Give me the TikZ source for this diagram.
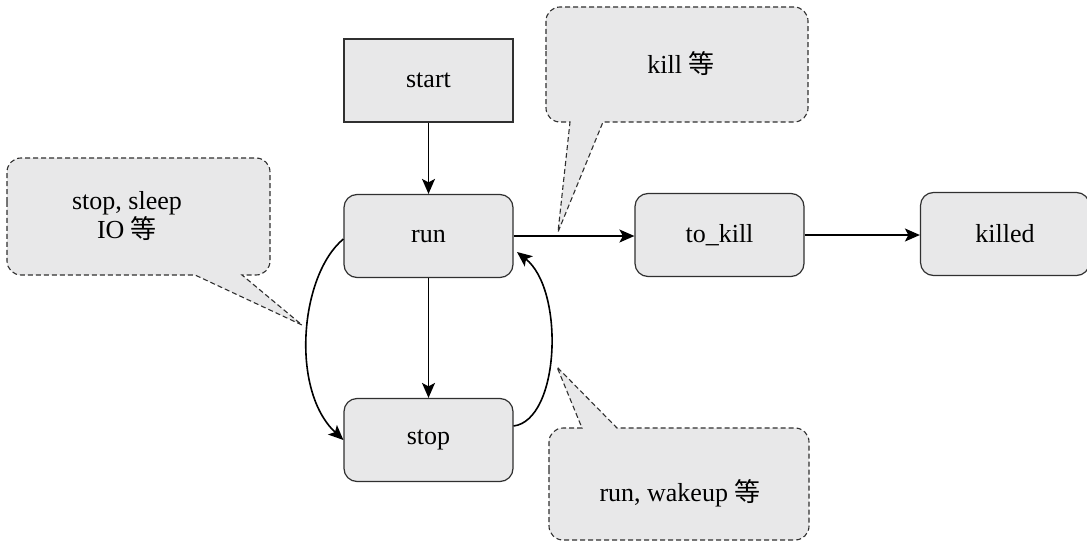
\documentclass[tikz,border=0pt]{standalone}
\usepackage{fontspec}
\setmainfont{Liberation Serif}
\newfontfamily\cjk{Noto Sans CJK SC}
\usetikzlibrary{arrows.meta}
\definecolor{boxfill}{HTML}{E8E8E9}
\definecolor{boxline}{HTML}{303030}
\tikzset{
  state/.style={draw=boxline, fill=boxfill, line width=1.2pt, rounded corners=13pt,
    minimum width=169pt, minimum height=83pt, inner sep=0pt,
    font=\fontsize{26}{29}\selectfont},
  startbox/.style={state, rounded corners=0pt},
  conn/.style={line width=1.6pt, -{Stealth[length=15pt,width=13pt,inset=3.5pt]}},
  callout/.style={draw=boxline, fill=boxfill, line width=1.1pt, dash pattern=on 5pt off 3pt},
  ctext/.style={font=\fontsize{26}{29}\selectfont, align=center, inner sep=0pt}
}
\begin{document}
\begin{tikzpicture}[x=1pt,y=-1pt]
\useasboundingbox (0,0) rectangle (1087,543);

% callouts
\draw[callout] (7,216) [rounded corners=14pt] -- (7,158) -- (270,158) -- (270,275)
  [sharp corners] -- (242,275) -- (302,325) -- (195,275) [rounded corners=14pt] -- (7,275) -- cycle;
\node[ctext] (c1) at (127,216) {stop, sleep\\IO {\cjk 等}};

\draw[callout] (546,64) [rounded corners=14pt] -- (546,7) -- (808,7) -- (808,122)
  [sharp corners] -- (603,122) -- (558,232) -- (570,122) [rounded corners=14pt] -- (546,122) -- cycle;
\node[ctext] (c2) at (681,64) {kill {\cjk 等}};

\draw[callout] (549,484) [rounded corners=14pt] -- (549,428)
  [sharp corners] -- (582,428) -- (557,367) -- (617,428) [rounded corners=14pt] -- (809,428) -- (809,540) -- (549,540) -- cycle;
\node[ctext] (c3) at (680,493) {run, wakeup {\cjk 等}};

% states
\node[startbox] (start) at (428.5,80.5) {start};
\node[state] (run) at (428.5,236) {run};
\node[state] (stop) at (428.5,440) {stop};
\node[state] (tokill) at (719.5,235) {to\_kill};
\node[state] (killed) at (1005,234) {killed};

% connectors
\draw[conn] (start) -- (run);
\draw[conn] (run) -- (stop);
\draw[conn] (run.east) -- (tokill.west |- run.east);
\draw[conn] (tokill.east) -- (killed.west |- tokill.east);
\coordinate (l1) at ([yshift=-3pt]run.west);
\coordinate (r2) at (517,252);
\coordinate (r1) at ([yshift=14pt]stop.east);
\draw[conn] (l1) .. controls (300,275) and (290,390) .. (stop.west);
\draw[conn] (r1) .. controls (560,420) and (565,290) .. (r2);
\end{tikzpicture}
\end{document}
